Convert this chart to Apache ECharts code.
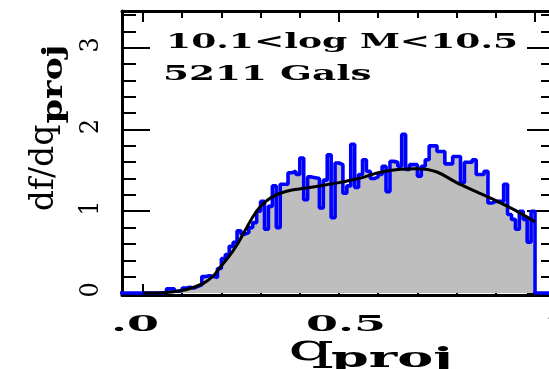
<!DOCTYPE html>
<html>
<head>
<meta charset="utf-8">
<script src="https://cdn.jsdelivr.net/npm/echarts@6/dist/echarts.min.js"></script>
<style>
  html, body { margin: 0; padding: 0; background: #fff; overflow: hidden; }
  #chart { width: 600px; height: 369px; }
</style>
</head>
<body>
<div id="chart"></div>
<script>
// Projected axis-ratio distribution, 0.01-wide bins from q = 0 to 1
const binWidth = 0.01;
const histDf = [
  0.00, 0.00, 0.00, 0.00, 0.00, 0.01, 0.05, 0.05, 0.02, 0.03,
  0.06, 0.07, 0.06, 0.08, 0.10, 0.20, 0.21, 0.20, 0.19, 0.30,
  0.42, 0.47, 0.57, 0.62, 0.76, 0.72, 0.74, 0.80, 0.86, 1.00,
  1.12, 0.78, 1.06, 1.31, 0.80, 1.33, 1.33, 1.47, 1.49, 1.45,
  1.65, 1.14, 1.42, 1.41, 1.40, 1.04, 1.38, 1.69, 0.92, 1.59,
  1.57, 1.22, 1.31, 1.82, 1.29, 1.45, 1.63, 1.49, 1.40, 1.42,
  1.45, 1.55, 1.24, 1.61, 1.60, 1.55, 1.94, 1.51, 1.57, 1.57,
  1.43, 1.55, 1.63, 1.80, 1.80, 1.73, 1.73, 1.58, 1.58, 1.67,
  1.67, 1.35, 1.60, 1.60, 1.63, 1.45, 1.45, 1.49, 1.10, 1.12,
  1.12, 1.12, 1.33, 0.96, 0.90, 0.78, 1.00, 0.90, 0.62, 1.00
];

// Smooth model curve
const modelQ  = [0, 0.05, 0.10, 0.13, 0.155, 0.18, 0.196, 0.22, 0.24, 0.26, 0.28, 0.30, 0.324, 0.35, 0.38, 0.41, 0.45, 0.50, 0.55, 0.60, 0.65, 0.70, 0.75, 0.80, 0.85, 0.90, 0.95, 1.00];
const modelDf = [0, 0.003, 0.03, 0.07, 0.12, 0.21, 0.31, 0.45, 0.59, 0.76, 0.93, 1.06, 1.16, 1.22, 1.26, 1.28, 1.31, 1.35, 1.40, 1.47, 1.51, 1.52, 1.48, 1.35, 1.24, 1.13, 1.01, 0.87];

// Axis ticks and labels
const xMajorTicks = [0, 0.5, 1];
const xMinorTicks = [0.1, 0.2, 0.3, 0.4, 0.6, 0.7, 0.8, 0.9];
const yMajorTicks = [0, 1, 2, 3];
const yMinorTicks = [0.2, 0.4, 0.6, 0.8, 1.2, 1.4, 1.6, 1.8, 2.2, 2.4, 2.6, 2.8, 3.2, 3.4];
const xTickLabels = ['.0', '0.5', '1.0'];
const yTickLabels = ['0', '1', '2', '3'];
const sampleText = '10.1<log M<10.5';
const countText = '5211 Gals';

// Layout
const X_MIN = -0.0535, X_MAX = 1.051;
const Y_MIN = -0.025, Y_MAX = 3.45;
const xLabelCenters = [135, 346, 583];
const SERIF = '"DejaVu Serif"';

// Gray fill through bin centres, blue step outline along bin edges
const centres = histDf.map((v, i) => [+(i * binWidth + binWidth / 2).toFixed(4), v]);
const steps = [[X_MIN - 0.02, 0]];
histDf.forEach((v, i) => steps.push([+(i * binWidth).toFixed(4), v]));
steps.push([1.0, 0], [X_MAX + 0.02, 0]);
const model = modelQ.map((q, i) => [q, modelDf[i]]);

const frame = { show: true, onZero: false, lineStyle: { color: '#000', width: 3 } };
function xAxis(position, ticks, len, line) {
  return {
    type: 'value', position, min: X_MIN, max: X_MAX,
    axisLine: line ? frame : { show: false, onZero: false },
    axisTick: { show: true, inside: true, length: len, customValues: ticks, lineStyle: { color: '#000', width: 2 } },
    axisLabel: { show: false }, splitLine: { show: false }
  };
}
function yAxis(position, ticks, len, line) {
  return {
    type: 'value', position, min: Y_MIN, max: Y_MAX,
    axisLine: line ? frame : { show: false, onZero: false },
    axisTick: { show: true, inside: true, length: len, customValues: ticks, lineStyle: { color: '#000', width: 2 } },
    axisLabel: { show: false }, splitLine: { show: false }
  };
}

const chart = echarts.init(document.getElementById('chart'), null, { renderer: 'canvas' });
chart.setOption({
  animation: false,
  backgroundColor: '#fff',
  grid: { left: 122, top: 11, width: 433, height: 284, containLabel: false },
  xAxis: [
    xAxis('bottom', xMajorTicks, 11, true),
    xAxis('bottom', xMinorTicks, 7, false),
    xAxis('top', xMajorTicks, 11, true),
    xAxis('top', xMinorTicks, 7, false)
  ],
  yAxis: [
    yAxis('left', yMajorTicks, 28, true),
    yAxis('left', yMinorTicks, 14, false),
    yAxis('right', yMajorTicks, 28, true),
    yAxis('right', yMinorTicks, 14, false)
  ],
  series: [
    {
      type: 'line', data: centres, showSymbol: false, z: 2,
      lineStyle: { width: 0 }, areaStyle: { color: '#bebebe', opacity: 1, origin: 0 }
    },
    {
      type: 'line', data: steps, step: 'end', showSymbol: false, z: 3,
      lineStyle: { color: '#0000ff', width: 3.6 }
    },
    {
      type: 'line', data: model, smooth: 0.3, showSymbol: false, z: 4,
      lineStyle: { color: '#000', width: 3 }
    }
  ]
});

function text(str, x, y, size, o) {
  return {
    type: 'text', x, y, z: 100,
    scaleX: o.sx || 1, scaleY: o.sy || 1, rotation: o.rot || 0,
    style: {
      text: str, fill: '#000',
      font: (o.weight || 'normal') + ' ' + size + 'px ' + SERIF,
      textAlign: o.align || 'center', textVerticalAlign: 'middle'
    }
  };
}

const texts = [];
yTickLabels.forEach((t, i) => {
  const py = chart.convertToPixel({ yAxisIndex: 0 }, yMajorTicks[i]);
  texts.push(text(t, 91, py - 3, 24, { rot: Math.PI / 2, sy: 1.1 }));
});
xTickLabels.forEach((t, i) => {
  texts.push(text(t, xLabelCenters[i], 325, 23, { weight: 'bold', sx: 2.0 }));
});
texts.push(text('df/dq', 44, 168, 33, { rot: Math.PI / 2 }));
texts.push(text('proj', 55, 84, 27, { rot: Math.PI / 2, sx: 1.3, weight: 'bold' }));
texts.push(text('q', 311, 350, 38, { sx: 1.9 }));
texts.push(text('proj', 331, 360, 27, { sx: 2.0, align: 'left', weight: 'bold' }));
texts.push(text(sampleText, 166, 43, 21, { sx: 1.72, align: 'left', weight: 'bold' }));
texts.push(text(countText, 163, 75, 20, { sx: 1.87, align: 'left', weight: 'bold' }));
chart.setOption({ graphic: { elements: texts } });
</script>
</body>
</html>
